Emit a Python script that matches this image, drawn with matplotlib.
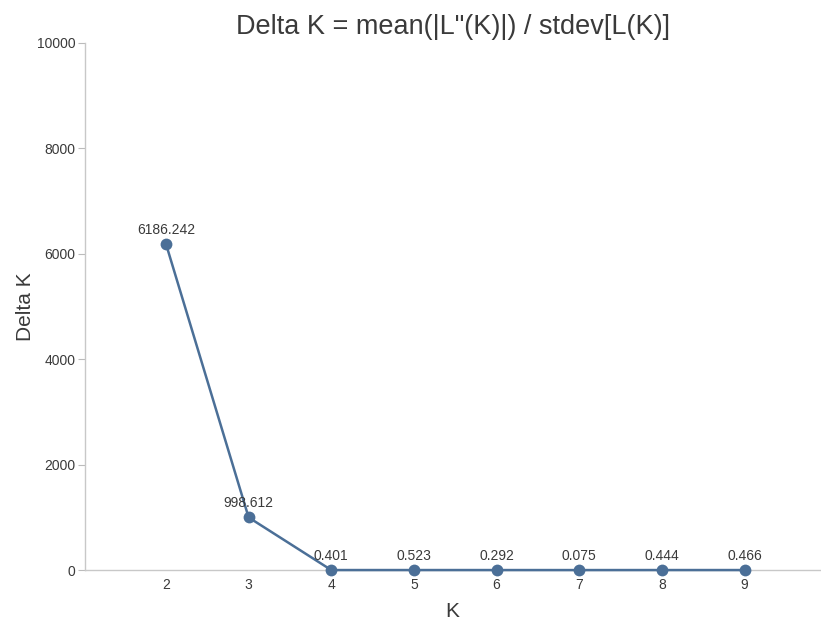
import matplotlib
matplotlib.use("Agg")
import matplotlib.pyplot as plt

k_values = [2, 3, 4, 5, 6, 7, 8, 9]
delta_k = [6186.242, 998.612, 0.401, 0.523, 0.292, 0.075, 0.444, 0.466]
y_ticks = [0, 2000, 4000, 6000, 8000, 10000]

plt.rcParams['font.family'] = ['Liberation Sans', 'DejaVu Sans']
text_col = '#3a3a3a'
line_col = '#4b6f97'

fig = plt.figure(figsize=(8.21, 6.21), dpi=100)
ax = fig.add_axes([0.1035, 0.082, 0.895, 0.849])

ax.plot(k_values, delta_k, color=line_col, lw=1.8, marker='o', markersize=8.5,
        markeredgewidth=0, zorder=3, clip_on=False)
for k, v in zip(k_values, delta_k):
    ax.annotate(f"{v:.3f}", (k, v), xytext=(0, 5), textcoords='offset points',
                ha='center', va='bottom', fontsize=10, color=text_col)

ax.set_xlim(1.02, 9.91)
ax.set_ylim(0, 10000)
ax.set_xticks(k_values)
ax.set_yticks(y_ticks)
ax.tick_params(axis='x', length=0, pad=6, labelsize=10, colors=text_col)
ax.tick_params(axis='y', length=5, width=0.8, color='#bbbbbb', pad=2,
               labelsize=10, labelcolor=text_col)
for s in ['top', 'right']:
    ax.spines[s].set_visible(False)
for s in ['left', 'bottom']:
    ax.spines[s].set_color('#c8c8c8')
    ax.spines[s].set_linewidth(1)

ax.set_xlabel('K', fontsize=15, color=text_col, labelpad=7)
ax.set_ylabel('Delta K', fontsize=15, color=text_col, labelpad=1)
fig.suptitle('Delta K = mean(|L"(K)|) / stdev[L(K)]',
             x=0.552, y=0.978, fontsize=19.5, color=text_col)

fig.savefig('out.png', dpi=100)
